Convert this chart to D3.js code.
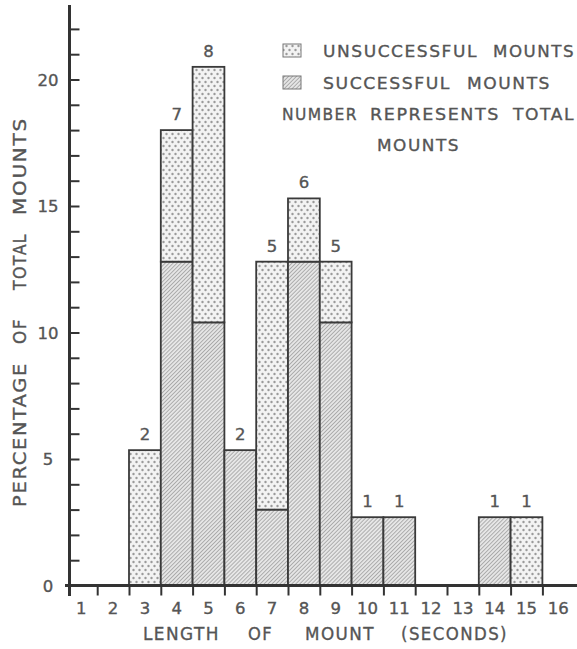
<!DOCTYPE html>
<html>
<head>
<meta charset="utf-8">
<script src="https://cdn.jsdelivr.net/npm/d3@7"></script>
<style>
  html, body { margin: 0; padding: 0; background: #fff; }
  svg { display: block; }
  text { font-family: "DejaVu Sans", sans-serif; fill: #555; stroke: #555; stroke-width: 0.35px; }
</style>
</head>
<body>
<div id="chart"></div>
<script>
// ---- data ----
const seconds      = [1, 2, 3, 4, 5, 6, 7, 8, 9, 10, 11, 12, 13, 14, 15, 16];
const successful   = [0, 0, 0, 12.8, 10.4, 5.35, 3.0, 12.8, 10.4, 2.7, 2.7, 0, 0, 2.7, 0, 0];
const unsuccessful = [0, 0, 5.35, 5.2, 10.1, 0, 9.8, 2.5, 2.4, 0, 0, 0, 0, 0, 2.7, 0];
const totalMounts  = [null, null, 2, 7, 8, 2, 5, 6, 5, 1, 1, null, null, 1, 1, null];
const yTickLabels  = [0, 5, 10, 15, 20];
const xTitleWords = ["LENGTH", "OF", "MOUNT", "(SECONDS)"];
const yTitleWords = ["PERCENTAGE", "OF", "TOTAL", "MOUNTS"];
const legendWords = [["UNSUCCESSFUL", "MOUNTS"], ["SUCCESSFUL", "MOUNTS"]];
const noteWords = [["NUMBER", "REPRESENTS", "TOTAL"], ["MOUNTS"]];

const W = 577, H = 649;
const svg = d3.select("#chart").append("svg").attr("width", W).attr("height", H);

// patterns
const defs = svg.append("defs");
const dots = defs.append("pattern").attr("id", "dots")
  .attr("patternUnits", "userSpaceOnUse").attr("width", 6).attr("height", 8);
dots.append("rect").attr("width", 6).attr("height", 8).attr("fill", "#f3f3f3");
dots.append("circle").attr("cx", 1.5).attr("cy", 2).attr("r", 1.2).attr("fill", "#9a9a9a");
dots.append("circle").attr("cx", 4.5).attr("cy", 6).attr("r", 1.2).attr("fill", "#9a9a9a");

const hatch = defs.append("pattern").attr("id", "hatch")
  .attr("patternUnits", "userSpaceOnUse").attr("width", 2.8).attr("height", 10)
  .attr("patternTransform", "rotate(45)");
hatch.append("rect").attr("width", 2.8).attr("height", 10).attr("fill", "#e6e6e6");
hatch.append("rect").attr("width", 0.8).attr("height", 10).attr("fill", "#a0a0a0");

// scales
const x = d3.scaleLinear().domain([1, 17]).range([65.4, 574.2]);
const y = d3.scaleLinear().domain([0, 22]).range([585.5, 585.5 - 22 * 25.3]);

const data = seconds.map((s, i) => ({ s, succ: successful[i], uns: unsuccessful[i], n: totalMounts[i] }));

// bars
const barStroke = "#3a3a3a";
const g = svg.append("g");
data.forEach(d => {
  if (d.succ > 0) {
    g.append("rect")
      .attr("x", x(d.s)).attr("width", x(d.s + 1) - x(d.s))
      .attr("y", y(d.succ)).attr("height", y(0) - y(d.succ))
      .attr("fill", "url(#hatch)").attr("stroke", barStroke).attr("stroke-width", 1.8);
  }
  if (d.uns > 0) {
    g.append("rect")
      .attr("x", x(d.s)).attr("width", x(d.s + 1) - x(d.s))
      .attr("y", y(d.succ + d.uns)).attr("height", y(d.succ) - y(d.succ + d.uns))
      .attr("fill", "url(#dots)").attr("stroke", barStroke).attr("stroke-width", 1.8);
  }
  if (d.n != null) {
    g.append("text")
      .attr("x", x(d.s + 0.5)).attr("y", y(d.succ + d.uns) - 10)
      .attr("text-anchor", "middle").attr("font-size", 16.5)
      .text(d.n);
  }
});

// y axis (ticks inside, to the right)
const yAxis = d3.axisRight(y).tickValues(d3.range(0, 23)).tickSize(10).tickFormat("");
const yg = svg.append("g").attr("transform", "translate(69.5,0)").call(yAxis);
yg.select(".domain").remove();
yg.selectAll(".tick line").attr("stroke", "#333").attr("stroke-width", 2);
svg.append("line").attr("x1", 69.5).attr("x2", 69.5).attr("y1", 5).attr("y2", 596)
  .attr("stroke", "#333").attr("stroke-width", 3);
svg.selectAll(".ylab").data(yTickLabels).enter().append("text")
  .attr("class", "ylab")
  .attr("x", 48).attr("y", d => y(d) + 6)
  .attr("text-anchor", "middle").attr("font-size", 16.5)
  .text(d => d);

// x axis
const xAxis = d3.axisBottom(x).tickValues(d3.range(2, 17)).tickSize(10).tickFormat("");
const xg = svg.append("g").attr("transform", `translate(0,${y(0)})`).call(xAxis);
xg.select(".domain").remove();
xg.selectAll(".tick line").attr("stroke", "#333").attr("stroke-width", 2);
svg.append("line").attr("x1", 65).attr("x2", 577).attr("y1", y(0)).attr("y2", y(0))
  .attr("stroke", "#333").attr("stroke-width", 3);
svg.selectAll(".xlab").data(seconds).enter().append("text")
  .attr("class", "xlab")
  .attr("x", d => x(d + 0.5)).attr("y", 614)
  .attr("text-anchor", "middle").attr("font-size", 16.5)
  .text(d => d);

// helper: place words with given [start, end] spans (glyphs stretched to fit)
function words(parent, list, spans, baseline, size) {
  list.forEach((w, i) => {
    parent.append("text")
      .attr("x", spans[i][0]).attr("y", baseline)
      .attr("font-size", size)
      .style("letter-spacing", "1.5px")
      .attr("textLength", spans[i][1] - spans[i][0]).attr("lengthAdjust", "spacingAndGlyphs")
      .text(w);
  });
}

// axis titles
words(svg, xTitleWords, [[143, 220], [248, 273], [305, 375], [401, 508]], 640, 17.5);
const yt = svg.append("g").attr("transform", "translate(26,507) rotate(-90)");
words(yt, yTitleWords, [[0, 145], [163, 189], [217, 274], [292, 390]], 0, 17);

// legend
const leg = svg.append("g");
leg.append("rect").attr("x", 283).attr("y", 44).attr("width", 18).attr("height", 13)
  .attr("fill", "url(#dots)").attr("stroke", "#777").attr("stroke-width", 1);
leg.append("rect").attr("x", 283).attr("y", 76).attr("width", 18).attr("height", 13)
  .attr("fill", "url(#hatch)").attr("stroke", "#777").attr("stroke-width", 1);
words(leg, legendWords[0], [[323, 478], [493, 575]], 57, 16.5);
words(leg, legendWords[1], [[323, 451], [467, 551]], 88.5, 16.5);
words(leg, noteWords[0], [[282, 358], [370, 500], [513, 575]], 120, 16.5);
words(leg, noteWords[1], [[377, 460]], 151, 16.5);
</script>
</body>
</html>
